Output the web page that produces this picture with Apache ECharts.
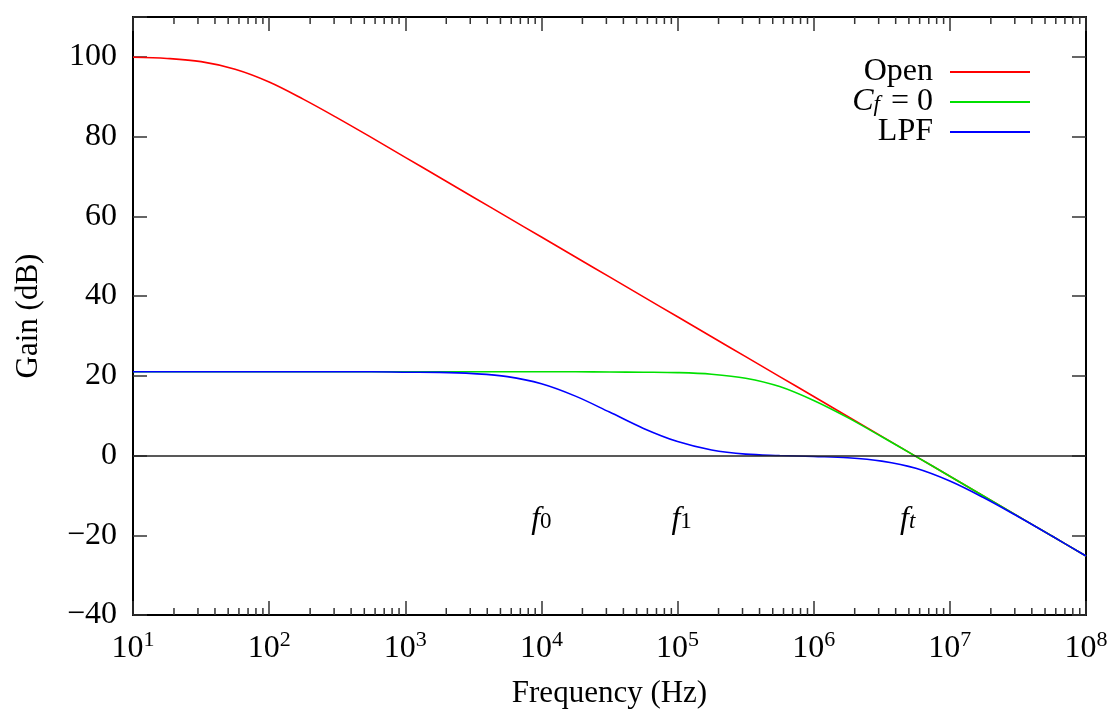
<!DOCTYPE html>
<html>
<head>
<meta charset="utf-8">
<script src="https://cdn.jsdelivr.net/npm/echarts@6/dist/echarts.min.js"></script>
<style>
  html, body { margin: 0; padding: 0; background: #fff; }
  #chart { width: 1114px; height: 714px; }
</style>
</head>
<body>
<div id="chart"></div>
<script>
// frequency samples as powers of ten (10^1 .. 10^8), quarter decades
const freqExp = [1, 1.25, 1.5, 1.75, 2, 2.25, 2.5, 2.75, 3, 3.25, 3.5, 3.75, 4, 4.25, 4.5,
  4.75, 5, 5.25, 5.5, 5.75, 6, 6.25, 6.5, 6.75, 7, 7.25, 7.5, 7.75, 8];

// gain in dB
const openGain = [99.9, 99.6, 98.8, 96.9, 93.7, 89.4, 84.7, 79.8, 74.8, 69.8, 64.8, 59.8, 54.8, 49.8, 44.8,
  39.8, 34.8, 29.8, 24.8, 19.8, 14.8, 9.8, 4.8, -0.2, -5.2, -10.2, -15.2, -20.2, -25.2];
const cf0Gain = [21.0, 21.0, 21.0, 21.0, 21.0, 21.0, 21.0, 21.0, 21.0, 21.0, 21.0, 21.0, 21.0, 21.0, 20.95,
  20.9, 20.8, 20.4, 19.4, 17.3, 13.8, 9.5, 4.7, -0.2, -5.2, -10.2, -15.2, -20.2, -25.2];
const lpfGain = [21.0, 21.0, 21.0, 21.0, 21.0, 21.0, 21.0, 21.0, 20.9, 20.85, 20.55, 19.8, 18.0, 14.9, 10.9,
  6.8, 3.5, 1.4, 0.35, 0.0, -0.25, -0.55, -1.4, -3.2, -6.4, -10.6, -15.3, -20.2, -25.2];

// annotations under the curves (x as power of ten)
const marks = [
  { sub: '0', x: 4.0, y: -16 },
  { sub: '1', x: 5.03, y: -16 },
  { sub: 't', x: 6.69, y: -16 }
];

const xRange = { min: 1, max: 8, step: 1 };
const yRange = { min: -40, max: 110, step: 20 };
const FONT = "'Liberation Serif', 'Times New Roman', serif";
const FS = 32;

const chart = echarts.init(document.getElementById('chart'));

function toPairs(values) {
  return freqExp.map((e, i) => [e, values[i]]);
}

// log minor ticks 2..9 in each decade
const minorTicks = [];
for (let d = xRange.min; d < xRange.max; d++) {
  for (let k = 2; k <= 9; k++) {
    minorTicks.push([d + Math.log10(k), 0]);
  }
}

const tickStyle = { color: '#333', width: 1.5 };
const axisLine = { show: true, onZero: false, lineStyle: { color: '#000', width: 2 } };

const xBase = {
  type: 'value',
  min: xRange.min,
  max: xRange.max,
  interval: xRange.step,
  splitLine: { show: false },
  axisLine,
  axisTick: { inside: true, length: 14, lineStyle: tickStyle }
};

const yBase = {
  type: 'value',
  min: yRange.min,
  max: yRange.max,
  interval: yRange.step,
  splitLine: { show: false },
  axisLine,
  axisTick: { inside: true, length: 14, lineStyle: tickStyle }
};

function lineSeries(name, values, color) {
  return {
    name,
    type: 'line',
    data: toPairs(values),
    smooth: 0.35,
    showSymbol: false,
    lineStyle: { color, width: 1.6 },
    itemStyle: { color },
    z: 3
  };
}

const openSeries = lineSeries('Open', openGain, '#ff0000');
openSeries.markLine = {
  silent: true,
  symbol: 'none',
  label: { show: false },
  lineStyle: { color: '#222', width: 1.5, type: 'solid' },
  data: [{ yAxis: 0 }]
};

const italic = { fontFamily: FONT, fontSize: FS, fontStyle: 'italic', color: '#000', lineHeight: 28 };
const upright = { fontFamily: FONT, fontSize: FS, color: '#000', lineHeight: 28 };
const subBase = { fontFamily: FONT, fontSize: 23, color: '#000', lineHeight: 18, verticalAlign: 'bottom' };

chart.setOption({
  animation: false,
  textStyle: { fontFamily: FONT },
  grid: { left: 133, right: 28, top: 17, bottom: 99 },
  xAxis: [
    Object.assign({}, xBase, {
      position: 'bottom',
      name: 'Frequency (Hz)',
      nameLocation: 'middle',
      nameGap: 63,
      nameTextStyle: { fontFamily: FONT, fontSize: 31, color: '#000' },
      axisLabel: {
        margin: 14,
        fontFamily: FONT,
        fontSize: FS,
        color: '#000',
        formatter: (v) => '10{sup|' + v + '}',
        rich: {
          sup: { fontFamily: FONT, fontSize: 22, color: '#000', verticalAlign: 'top', padding: [0, 0, 18, 0] }
        }
      }
    }),
    Object.assign({}, xBase, { position: 'top', axisLabel: { show: false } })
  ],
  yAxis: [
    Object.assign({}, yBase, {
      position: 'left',
      name: 'Gain (dB)',
      nameLocation: 'middle',
      nameGap: 89,
      nameTextStyle: { fontFamily: FONT, fontSize: 31, color: '#000' },
      axisLabel: {
        margin: 16,
        fontFamily: FONT,
        fontSize: FS,
        color: '#000',
        formatter: (v) => (v > 100 ? '' : (v < 0 ? '\u2212' + (-v) : String(v)))
      }
    }),
    Object.assign({}, yBase, { position: 'right', axisLabel: { show: false } })
  ],
  legend: {
    orient: 'vertical',
    right: 84,
    top: 56,
    padding: 0,
    align: 'right',
    icon: 'rect',
    itemWidth: 80,
    itemHeight: 2,
    itemGap: -2,
    data: ['Open', 'Cf = 0', 'LPF'],
    formatter: (name) => (name === 'Cf = 0' ? '{it|C}{sub|f}{n| = 0}' : '{n|' + name + '}'),
    textStyle: {
      fontFamily: FONT,
      fontSize: FS,
      color: '#000',
      lineHeight: 28,
      padding: [0, 12, 0, 0],
      rich: {
        n: upright,
        it: italic,
        sub: Object.assign({}, subBase, { fontStyle: 'italic', padding: [0, 3, 0, 0] })
      }
    }
  },
  series: [
    openSeries,
    lineSeries('Cf = 0', cf0Gain, '#00e000'),
    lineSeries('LPF', lpfGain, '#0000ff'),
    {
      type: 'scatter',
      silent: true,
      symbolSize: 0,
      itemStyle: { opacity: 1 },
      data: marks.map((m) => ({ value: [m.x, m.y], sub: m.sub })),
      label: {
        show: true,
        position: 'inside',
        color: '#000',
        opacity: 1,
        formatter: (p) => '{it|f}{' + (p.data.sub === 't' ? 'subt' : 'sub') + '|' + p.data.sub + '}',
        rich: {
          it: italic,
          sub: subBase,
          subt: Object.assign({}, subBase, { fontStyle: 'italic' })
        }
      }
    },
    {
      type: 'custom',
      silent: true,
      data: minorTicks,
      renderItem: (params, api) => {
        const x = api.coord([api.value(0), 0])[0];
        const cs = params.coordSys;
        const style = { stroke: '#333', lineWidth: 1.5 };
        return {
          type: 'group',
          children: [
            { type: 'line', shape: { x1: x, y1: cs.y + cs.height, x2: x, y2: cs.y + cs.height - 7 }, style },
            { type: 'line', shape: { x1: x, y1: cs.y, x2: x, y2: cs.y + 7 }, style }
          ]
        };
      }
    }
  ]
});
</script>
</body>
</html>
